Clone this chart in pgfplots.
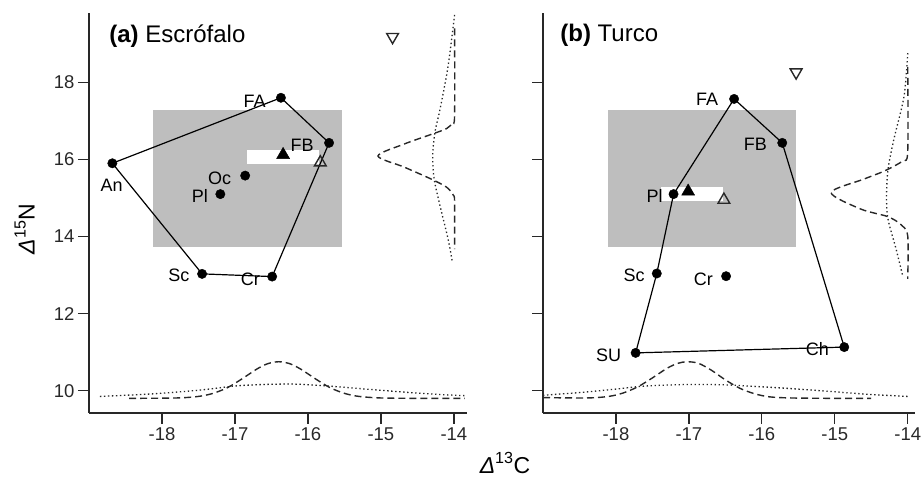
\documentclass[border=0pt]{standalone}
\usepackage{fontspec}
\setmainfont{Liberation Sans}
\usepackage{pgfplots}
\pgfplotsset{compat=1.18}
\definecolor{shade}{RGB}{190,190,190}
\definecolor{ink}{RGB}{40,40,40}
\tikzset{
  lab/.style={font=\fontsize{18}{20}\selectfont, text=black},
  ttl/.style={anchor=base west, font=\fontsize{24}{28}\selectfont},
}
\pgfplotsset{
  myaxis/.style={
    scale only axis, height=400pt,
    ymin=9.42, ymax=19.8, xmin=-19,
    axis x line*=bottom, axis y line*=left,
    axis line style={-, ink, line width=1.3pt},
    tick align=outside, major tick length=11pt,
    every tick/.style={ink, line width=1.3pt},
    xtick={-18,-17,-16,-15,-14}, ytick={10,12,14,16,18},
    ticklabel style={font=\fontsize{18.5}{21}\selectfont, text=ink},
    /pgf/number format/assume math mode=true,
    clip=false,
  },
  dens dash/.style={ink, line width=1.4pt, dash pattern=on 7pt off 4pt, no marks, smooth},
  dens dot/.style={ink, line width=1.3pt, dash pattern=on 1.4pt off 2.6pt, no marks, smooth},
  poly/.style={black, line width=1.2pt, no marks},
  pts/.style={only marks, mark=*, mark size=4.7pt, black},
}
\begin{document}
\begin{tikzpicture}
% ---------------- panel (a)
\begin{axis}[myaxis, at={(0pt,0pt)}, anchor=south west, width=378pt, xmax=-13.82]
\addplot[fill=shade, draw=none] coordinates {(-18.12,13.72) (-15.53,13.72) (-15.53,17.27) (-18.12,17.27)} -- cycle;
\addplot[fill=white, draw=none] coordinates {(-16.84,15.87) (-15.85,15.87) (-15.85,16.24) (-16.84,16.24)} -- cycle;
\addplot[poly] coordinates {(-18.68,15.90) (-16.37,17.60) (-15.71,16.43) (-16.49,12.96) (-17.45,13.03) (-18.68,15.90)};
\addplot[pts] coordinates {(-18.68,15.90) (-16.37,17.60) (-15.71,16.43) (-16.49,12.96) (-17.45,13.03) (-16.86,15.58) (-17.20,15.10)};
\addplot[only marks, mark=triangle*, mark size=7.5pt, black] coordinates {(-16.34,16.12)};
\addplot[only marks, mark=triangle, mark size=6.8pt, mark options={line width=1.4pt}, ink] coordinates {(-15.83,15.92)};
\addplot[only marks, mark=triangle, mark size=6.8pt, mark options={line width=1.4pt, rotate=180}, ink] coordinates {(-14.84,19.18)};
% densities
\addplot[dens dash] coordinates {(-18.45,9.80) (-17.8,9.81) (-17.5,9.85) (-17.3,9.93) (-17.1,10.08) (-16.9,10.31) (-16.7,10.56) (-16.55,10.70) (-16.4,10.75) (-16.25,10.70) (-16.1,10.56) (-15.9,10.31) (-15.7,10.08) (-15.5,9.93) (-15.3,9.85) (-15.0,9.81) (-14.5,9.80) (-13.85,9.80)};
\addplot[dens dot] coordinates {(-18.85,9.85) (-18.5,9.88) (-18.1,9.92) (-17.5,10.01) (-17.0,10.12) (-16.6,10.16) (-16.2,10.17) (-15.8,10.13) (-15.2,10.04) (-14.6,9.95) (-14.2,9.90) (-13.85,9.87)};
\addplot[dens dash] coordinates {(-13.99,19.40) (-13.99,17.15) (-14.02,16.95) (-14.10,16.80) (-14.31,16.65) (-14.68,16.40) (-15.04,16.09) (-14.68,15.80) (-14.31,15.49) (-14.10,15.28) (-14.01,15.08) (-13.99,14.90) (-13.99,13.67)};
\addplot[dens dot] coordinates {(-13.99,19.75) (-14.08,18.41) (-14.19,17.30) (-14.26,16.70) (-14.29,16.09) (-14.27,15.49) (-14.19,14.80) (-14.08,13.94) (-14.02,13.33)};
% labels
\node[ttl] at (axis cs:-18.77,19.03) {\textbf{(a)} Escrófalo};
\node[lab] at (axis cs:-16.73,17.51) {FA};
\node[lab] at (axis cs:-16.08,16.36) {FB};
\node[lab] at (axis cs:-18.69,15.34) {An};
\node[lab] at (axis cs:-17.21,15.50) {Oc};
\node[lab] at (axis cs:-17.48,15.04) {Pl};
\node[lab] at (axis cs:-17.77,13.00) {Sc};
\node[lab] at (axis cs:-16.79,12.89) {Cr};
\end{axis}
% ---------------- panel (b)
\begin{axis}[myaxis, at={(454pt,0pt)}, anchor=south west, width=372pt, xmax=-13.9, yticklabels={}]
\addplot[fill=shade, draw=none] coordinates {(-18.11,13.72) (-15.53,13.72) (-15.53,17.27) (-18.11,17.27)} -- cycle;
\addplot[fill=white, draw=none] coordinates {(-17.38,14.92) (-16.53,14.92) (-16.53,15.28) (-17.38,15.28)} -- cycle;
\addplot[poly] coordinates {(-17.21,15.10) (-16.38,17.57) (-15.72,16.43) (-14.87,11.13) (-17.73,10.98) (-17.44,13.04) (-17.21,15.10)};
\addplot[pts] coordinates {(-17.21,15.10) (-16.38,17.57) (-15.72,16.43) (-14.87,11.13) (-17.73,10.98) (-17.44,13.04) (-16.49,12.97)};
\addplot[only marks, mark=triangle*, mark size=7.5pt, black] coordinates {(-17.01,15.17)};
\addplot[only marks, mark=triangle, mark size=6.8pt, mark options={line width=1.4pt}, ink] coordinates {(-16.52,14.95)};
\addplot[only marks, mark=triangle, mark size=6.8pt, mark options={line width=1.4pt, rotate=180}, ink] coordinates {(-15.53,18.26)};
% densities
\addplot[dens dash] coordinates {(-19.0,9.82) (-18.4,9.81) (-18.1,9.85) (-17.9,9.94) (-17.7,10.10) (-17.5,10.33) (-17.3,10.58) (-17.15,10.71) (-17.02,10.75) (-16.87,10.71) (-16.7,10.54) (-16.5,10.28) (-16.3,10.06) (-16.1,9.92) (-15.9,9.84) (-15.6,9.81) (-15.0,9.80) (-14.5,9.80)};
\addplot[dens dot] coordinates {(-19.0,9.88) (-18.5,9.95) (-18.0,10.04) (-17.6,10.12) (-17.0,10.16) (-16.5,10.15) (-16.0,10.10) (-15.5,10.04) (-15.0,9.97) (-14.5,9.90) (-14.0,9.85)};
\addplot[dens dash] coordinates {(-14.0,18.40) (-14.0,16.20) (-14.07,15.96) (-14.32,15.70) (-14.60,15.49) (-15.05,15.14) (-14.64,14.71) (-14.28,14.52) (-14.10,14.32) (-14.0,14.02) (-14.0,12.90)};
\addplot[dens dot] coordinates {(-14.0,18.76) (-14.05,17.64) (-14.19,16.52) (-14.27,15.74) (-14.29,15.05) (-14.27,14.45) (-14.16,13.68) (-14.07,12.99)};
% labels
\node[ttl] at (axis cs:-18.81,19.06) {\textbf{(b)} Turco};
\node[lab] at (axis cs:-16.75,17.55) {FA};
\node[lab] at (axis cs:-16.09,16.38) {FB};
\node[lab] at (axis cs:-17.47,15.04) {Pl};
\node[lab] at (axis cs:-17.75,13.00) {Sc};
\node[lab] at (axis cs:-16.80,12.89) {Cr};
\node[lab] at (axis cs:-18.10,10.93) {SU};
\node[lab] at (axis cs:-15.24,11.07) {Ch};
\end{axis}
% axis titles
\node[font=\fontsize{23}{26}\selectfont] at (416pt,-50pt) {{\itshape Δ}\textsuperscript{13}C};
\node[font=\fontsize{23}{26}\selectfont, rotate=90] at (-64.5pt,184pt) {{\itshape Δ}\textsuperscript{15}N};
\pgfresetboundingbox
\path[use as bounding box] (-89pt,-73pt) rectangle (832pt,413pt);
\end{tikzpicture}
\end{document}
